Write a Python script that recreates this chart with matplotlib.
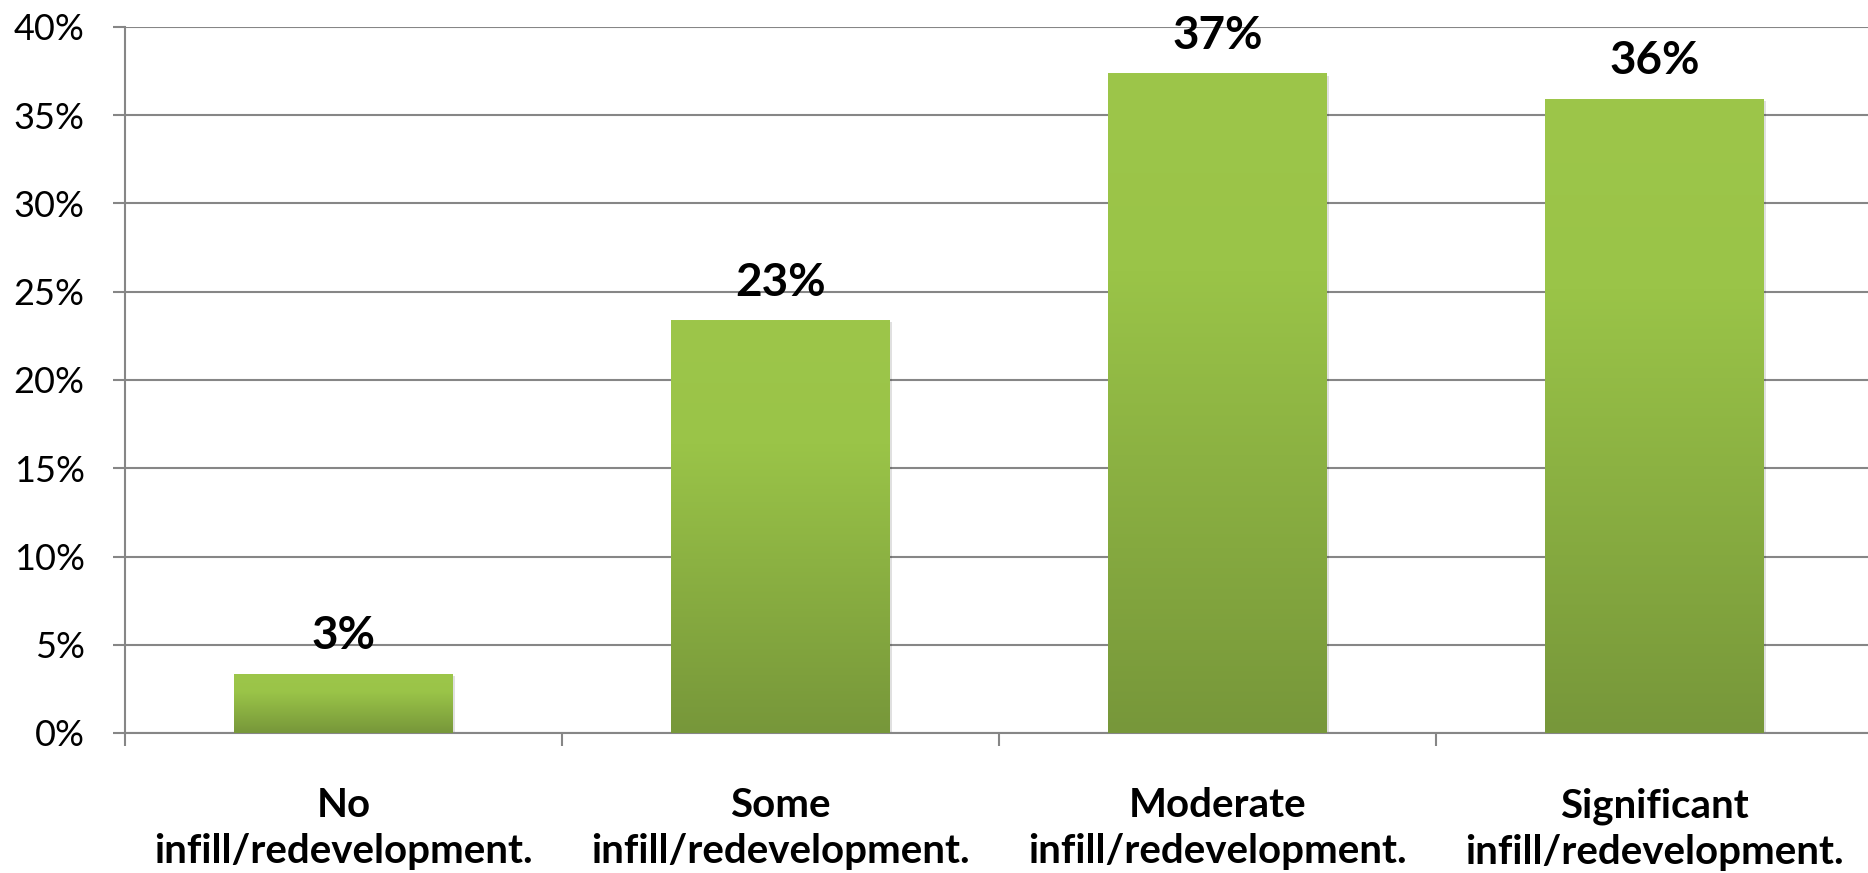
import numpy as np
import matplotlib
matplotlib.use("Agg")
import matplotlib.pyplot as plt
from matplotlib.colors import LinearSegmentedColormap
from matplotlib.ticker import FuncFormatter, MultipleLocator

categories = ["No\ninfill/redevelopment.", "Some\ninfill/redevelopment.",
              "Moderate\ninfill/redevelopment.", "Significant\ninfill/redevelopment."]
values = [3.34, 23.37, 37.34, 35.92]
labels = ["3%", "23%", "37%", "36%"]

plt.rcParams['font.family'] = ['Lato', 'DejaVu Sans']

fig = plt.figure(figsize=(18.68, 8.73), dpi=100)
ax = fig.add_axes([125 / 1868, 1 - 733 / 873, 1748 / 1868, 706 / 873])

x = np.arange(len(categories))
width = 0.5
cmap = LinearSegmentedColormap.from_list("grn", [(0, "#9dc64a"), (0.3, "#9ac448"), (1, "#77973a")])
grad = np.linspace(0, 1, 256).reshape(-1, 1)

bars = ax.bar(x, values, width, color="none", zorder=3)
for b in bars:
    x0, y0, w, h = b.get_x(), b.get_y(), b.get_width(), b.get_height()
    # soft shadow
    ax.bar(x0 + w / 2 + 0.006, h, w, bottom=-0.1, color="#000000", alpha=0.12, zorder=2)
    ax.imshow(grad, cmap=cmap, aspect="auto", extent=(x0, x0 + w, y0, y0 + h),
              origin="upper", zorder=3)

for xi, v, lab in zip(x, values, labels):
    ax.text(xi, v + 1.4, lab, ha="center", va="baseline", fontsize=33,
            fontweight="bold", color="black", zorder=4)

ax.set_xlim(-0.5, 3.5)
ax.set_ylim(0, 40)
ax.yaxis.set_major_locator(MultipleLocator(5))
ax.yaxis.set_major_formatter(FuncFormatter(lambda v, p: f"{v:.0f}%"))
ax.grid(axis="y", color="#868686", linewidth=1.5, zorder=1)
ax.set_axisbelow(True)

ax.set_xticks(np.arange(-0.5, 3.6, 1.0))
ax.set_xticklabels([])
ax.set_xticks(x, minor=True)
ax.set_xticklabels(categories, minor=True, fontsize=29, fontweight="bold", linespacing=1.3)
ax.tick_params(axis="x", which="minor", length=0, pad=39)
ax.tick_params(axis="x", which="major", length=9, width=1.5, color="#868686", direction="out")
ax.tick_params(axis="y", length=9, width=1.5, color="#868686", direction="out",
               labelsize=26, pad=20)

for s in ["top", "right"]:
    ax.spines[s].set_visible(False)
for s in ["left", "bottom"]:
    ax.spines[s].set_color("#868686")
    ax.spines[s].set_linewidth(1.5)

fig.savefig("out.png", dpi=100)
